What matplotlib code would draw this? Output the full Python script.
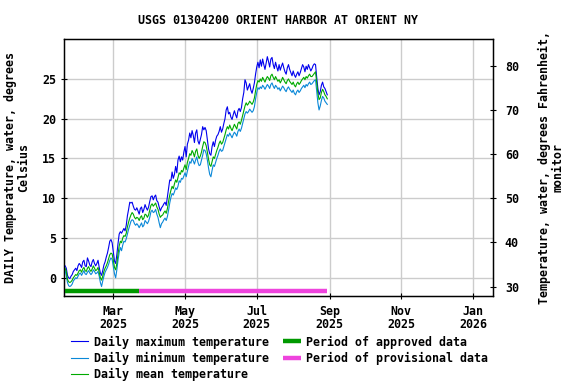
import matplotlib
matplotlib.use("Agg")
import matplotlib.pyplot as plt
import matplotlib.dates as mdates
import numpy as np
import datetime as dt

start_date = dt.date(2025, 1, 19)

t_mean = [
    1.2, 0.8, -0.2, -0.5, -0.6, -0.5, -0.3, 0.0, 0.2, 0.4,
    0.3, 0.6, 0.9, 1.0, 0.7, 1.1, 1.3, 0.9, 0.8, 1.2,
    1.4, 1.0, 0.8, 1.1, 1.5, 1.2, 0.9, 1.0, 1.3, 0.7,
    0.0, -0.3, 0.2, 0.8, 1.2, 1.5, 1.9, 2.4, 2.9, 3.1,
    3.0, 2.2, 1.3, 1.0, 1.8, 3.0, 4.0, 4.6, 4.4, 5.0,
    5.3, 5.2, 5.6, 6.4, 7.0, 7.5, 7.9, 8.2, 8.0, 7.6,
    7.4, 7.6, 7.5, 7.2, 7.6, 7.8, 7.3, 7.5, 8.0, 7.9,
    7.6, 7.9, 8.5, 9.1, 9.3, 9.0, 9.2, 9.4, 8.9, 8.6,
    8.0, 7.6, 7.8, 7.9, 8.2, 8.4, 8.1, 8.7, 9.6, 10.4,
    11.0, 11.5, 11.2, 11.8, 12.3, 12.0, 12.6, 13.2, 13.0, 13.5,
    13.3, 13.8, 14.2, 13.6, 14.5, 15.0, 15.6, 15.4, 16.0, 15.7,
    15.2, 15.9, 16.2, 15.4, 15.0, 15.3, 15.8, 16.5, 17.1, 17.0,
    16.6, 15.8, 14.9, 14.2, 14.0, 14.6, 15.2, 15.0, 15.5, 16.0,
    16.4, 16.9, 17.2, 16.8, 17.0, 17.5, 18.0, 18.6, 19.0, 18.7,
    19.2, 18.8, 18.5, 18.9, 19.3, 19.0, 18.7, 19.4, 19.6, 19.3,
    19.8, 20.4, 21.0, 21.6, 22.0, 21.7, 21.9, 22.2, 22.0, 21.8,
    22.1, 22.6, 23.5, 24.3, 24.8, 24.6, 25.0, 24.7, 25.2, 24.9,
    24.6, 25.0, 25.3, 25.1, 24.8, 25.4, 25.6, 25.2, 24.9, 25.3,
    25.0, 24.7, 24.9, 24.5, 24.8, 25.2, 24.9, 24.6, 24.4, 24.8,
    25.0, 24.7, 24.5, 24.3, 24.6, 24.2, 24.0, 24.4, 24.6, 24.3,
    24.5, 24.8, 25.0, 25.2, 24.9, 25.3, 25.1, 25.4, 25.6, 25.3,
    25.3, 25.5, 25.7, 25.9, 24.6, 23.2, 22.4, 22.6, 23.3, 23.7,
    23.4, 23.0, 22.8, 22.5,
]

t_max = [
    1.5, 1.2, 0.3, 0.0, -0.1, 0.2, 0.4, 0.8, 1.0, 1.2,
    0.9, 1.5, 1.8, 1.6, 1.3, 2.0, 2.2, 1.5, 1.4, 2.5,
    2.1, 1.6, 1.4, 2.0, 2.3, 1.8, 1.5, 1.8, 2.2, 1.3,
    0.6, 0.3, 0.9, 1.6, 2.0, 2.6, 3.1, 3.8, 4.6, 4.8,
    4.4, 3.2, 2.1, 1.8, 2.9, 4.3, 5.5, 5.8, 5.6, 5.9,
    6.2, 5.9, 6.6, 7.8, 8.6, 9.5, 9.4, 9.5, 9.0, 8.6,
    8.5, 8.8, 8.4, 8.0, 8.7, 8.9, 8.2, 8.6, 9.2, 8.8,
    8.5, 8.9, 9.6, 10.2, 10.3, 9.8, 10.2, 10.4, 9.7, 9.5,
    8.9, 8.4, 8.8, 9.0, 9.3, 9.5, 9.1, 10.2, 11.4, 12.3,
    12.2, 13.3, 12.5, 13.0, 14.0, 13.2, 14.8, 15.3, 14.6, 15.2,
    14.8, 15.8, 16.5, 15.2, 16.8, 17.3, 18.2, 17.6, 18.5, 17.9,
    17.0, 18.2, 18.6, 17.2, 16.8, 17.4, 18.0, 19.0, 18.6, 18.9,
    18.5, 17.4, 16.2, 15.6, 15.4, 16.5, 17.1, 16.5, 17.3, 17.8,
    18.0, 18.4, 19.0, 18.3, 18.7, 19.4, 20.0, 21.1, 21.5, 20.6,
    20.8, 20.2, 19.9, 20.5, 21.0, 20.5, 20.1, 21.0, 21.3, 20.9,
    21.4, 22.5, 23.3, 24.9, 24.5, 23.6, 24.0, 24.4, 23.6, 23.2,
    23.8, 24.5, 25.6, 26.5, 27.1, 26.4, 27.4, 26.6, 27.5, 26.8,
    26.2, 27.0, 27.8, 27.2, 26.5, 27.5, 27.7, 26.8, 26.3, 27.1,
    26.5, 26.0, 26.8, 26.1, 26.6, 27.0, 26.4, 25.9, 25.6, 26.4,
    26.8, 26.2, 25.8, 25.4, 26.0, 25.5, 25.2, 25.6, 25.9, 25.4,
    25.8, 26.3, 26.8, 26.5, 25.9, 26.6, 26.2, 26.8, 26.4, 26.0,
    26.3, 26.7, 26.9, 26.8, 25.2, 23.8, 23.0, 23.4, 24.2, 24.6,
    24.0, 23.8, 23.4, 23.0,
]

t_min = [
    0.9, 0.3, -0.6, -1.0, -1.1, -1.0, -0.8, -0.4, -0.2, 0.0,
    -0.1, 0.2, 0.5, 0.6, 0.3, 0.6, 0.9, 0.5, 0.4, 0.7,
    0.9, 0.6, 0.4, 0.6, 1.0, 0.8, 0.5, 0.6, 0.8, 0.2,
    -0.6, -1.1, -0.4, 0.2, 0.7, 1.0, 1.3, 1.7, 2.2, 2.5,
    2.3, 1.4, 0.5, 0.0, 1.0, 2.2, 3.2, 3.8, 3.4, 4.1,
    4.6, 4.5, 4.9, 5.5, 6.1, 6.6, 7.1, 7.3, 7.2, 6.8,
    6.6, 6.8, 6.6, 6.3, 6.6, 6.9, 6.4, 6.6, 7.2, 7.0,
    6.8, 7.1, 7.6, 8.3, 8.5, 8.2, 8.3, 8.6, 8.0, 7.6,
    6.9, 6.3, 6.8, 7.0, 7.3, 7.5, 7.2, 7.7, 8.5, 9.4,
    10.1, 10.6, 10.4, 10.8, 11.3, 11.1, 11.5, 12.2, 12.0, 12.5,
    12.4, 12.8, 13.2, 12.7, 13.4, 14.0, 14.6, 14.4, 15.0, 14.7,
    14.3, 14.8, 15.2, 14.5, 14.1, 14.2, 14.8, 15.4, 16.1, 16.0,
    15.6, 14.8, 13.8, 13.0, 12.7, 13.5, 14.2, 14.0, 14.5, 15.0,
    15.4, 15.9, 16.2, 15.9, 16.0, 16.5, 17.0, 17.5, 18.0, 17.8,
    18.2, 17.9, 17.6, 18.0, 18.3, 18.1, 17.8, 18.4, 18.7, 18.4,
    18.8, 19.4, 20.0, 20.6, 20.9, 20.7, 20.9, 21.2, 21.0, 20.8,
    21.0, 21.5, 22.5, 23.3, 23.9, 23.7, 24.0, 23.8, 24.2, 24.0,
    23.7, 24.0, 24.3, 24.1, 23.8, 24.3, 24.5, 24.1, 23.8, 24.2,
    24.0, 23.7, 23.9, 23.5, 23.8, 24.1, 23.9, 23.6, 23.4, 23.8,
    24.0, 23.7, 23.5, 23.3, 23.6, 23.2, 23.0, 23.4, 23.6, 23.3,
    23.5, 23.8, 24.0, 24.2, 23.9, 24.3, 24.1, 24.4, 24.6, 24.3,
    24.4, 24.6, 24.8, 24.9, 23.5, 22.0, 21.1, 21.6, 22.3, 22.8,
    22.6, 22.2, 22.0, 21.8,
]

approved_period = (dt.date(2025, 1, 18), dt.date(2025, 3, 23))
provisional_period = (dt.date(2025, 3, 23), dt.date(2025, 8, 30))
period_bar_level = -1.72

tick_dates = [dt.date(2025, 3, 1), dt.date(2025, 5, 1), dt.date(2025, 7, 1),
              dt.date(2025, 9, 1), dt.date(2025, 11, 1), dt.date(2026, 1, 1)]
tick_labels = ["Mar\n2025", "May\n2025", "Jul\n2025", "Sep\n2025", "Nov\n2025", "Jan\n2026"]
left_ticks = [0, 5, 10, 15, 20, 25]
right_ticks = [30, 40, 50, 60, 70, 80]

dates = [start_date + dt.timedelta(days=i) for i in range(len(t_mean))]

FONT = "DejaVu Sans Mono"
FS = 8.4
plt.rcParams["font.family"] = FONT
plt.rcParams["font.weight"] = "bold"
plt.rcParams["font.size"] = FS

fig = plt.figure(figsize=(5.76, 3.84), dpi=100)
ax = fig.add_axes([0.111, 0.229, 0.745, 0.669])

c_max = "#0000ee"
c_min = "#0a88d8"
c_mean = "#00aa00"

ax.plot(dates, t_max, color=c_max, lw=0.8, label="Daily maximum temperature", zorder=3)
ax.plot(dates, t_min, color=c_min, lw=0.8, label="Daily minimum temperature", zorder=3)
ax.plot(dates, t_mean, color=c_mean, lw=0.8, label="Daily mean temperature", zorder=4)
ax.plot(list(approved_period), [period_bar_level] * 2, color="#009900", lw=3.2,
        solid_capstyle="butt", label="Period of approved data", zorder=5)
ax.plot(list(provisional_period), [period_bar_level] * 2, color="#ee44dd", lw=3.2,
        solid_capstyle="butt", label="Period of provisional data", zorder=5)

ylo, yhi = -2.3, 30.0
ax.set_ylim(ylo, yhi)
ax.set_xlim(dt.date(2025, 1, 18), dt.date(2026, 1, 18))
ax.set_xticks(tick_dates)
ax.set_xticklabels(tick_labels, linespacing=1.0)
ax.set_yticks(left_ticks)
ax.grid(True, color="#cccccc", lw=1.0)
ax.set_axisbelow(True)
ax.tick_params(direction="inout", length=5, width=0.8, pad=3)
ax.tick_params(axis="x", pad=4)
for s in ax.spines.values():
    s.set_linewidth(1.0)

ax2 = ax.twinx()
ax2.set_ylim(ylo * 9 / 5 + 32, yhi * 9 / 5 + 32)
ax2.set_yticks(right_ticks)
ax2.tick_params(direction="inout", length=5, width=0.8, pad=6)

ax.set_ylabel("DAILY Temperature, water, degrees\nCelsius", fontsize=FS,
              fontweight="bold", linespacing=1.0, labelpad=9)
ax2.set_ylabel("Temperature, water, degrees Fahrenheit,\nmonitor", fontsize=FS,
               fontweight="bold", linespacing=1.0, labelpad=14)
ax.set_title("USGS 01304200 ORIENT HARBOR AT ORIENT NY", fontsize=FS,
             fontweight="bold", pad=11)

leg = ax.legend(loc="upper left", bbox_to_anchor=(0.005, -0.135), ncol=2,
                frameon=False, fontsize=FS, handlelength=1.5, handletextpad=0.5,
                columnspacing=1.2, labelspacing=0.28, borderaxespad=0)

fig.savefig("out.png", dpi=100)
